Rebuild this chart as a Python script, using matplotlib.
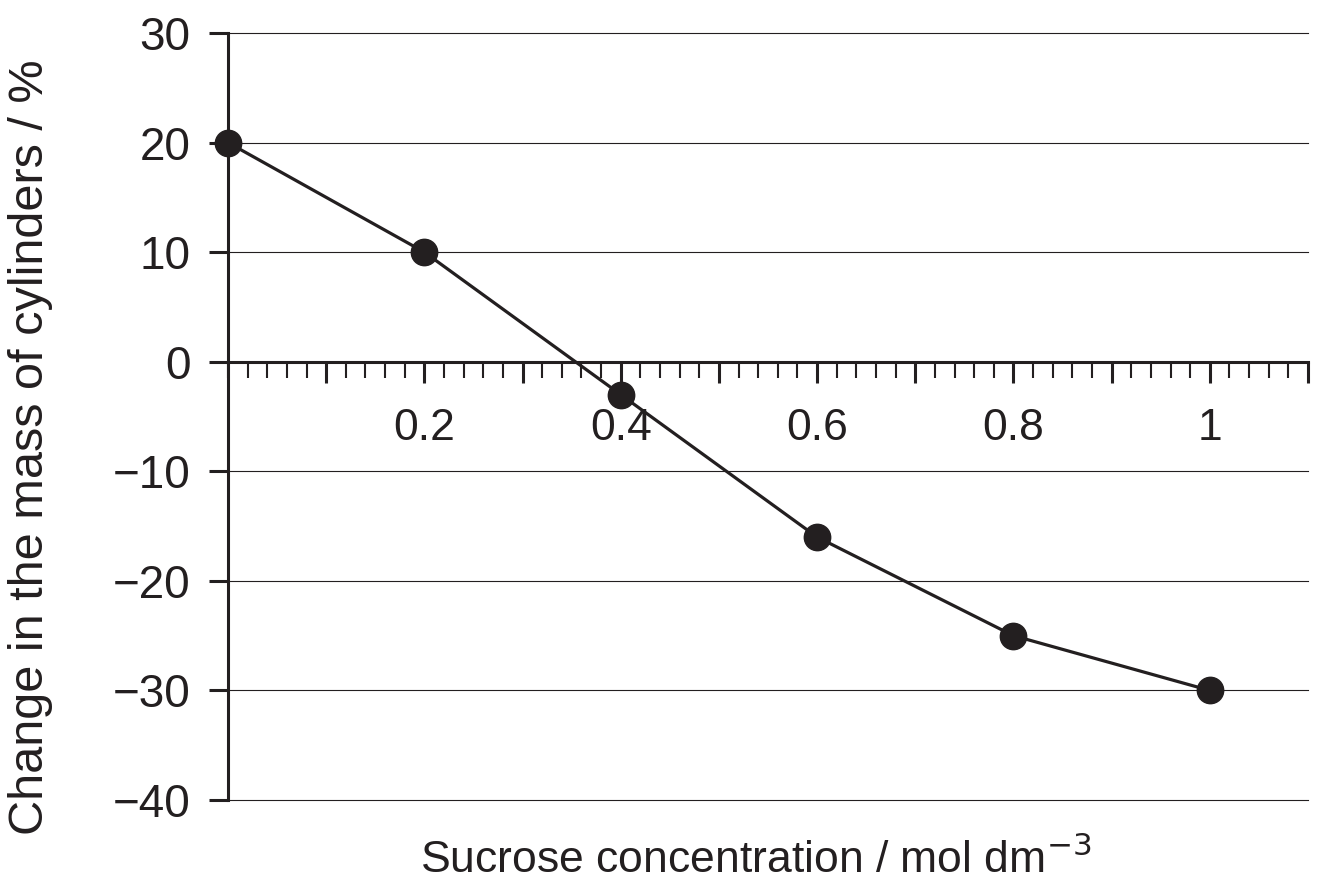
import matplotlib.pyplot as plt
from matplotlib.ticker import MultipleLocator, FixedLocator

plt.rcParams['font.family'] = ['Liberation Sans', 'DejaVu Sans']

concentration = [0, 0.2, 0.4, 0.6, 0.8, 1.0]
mass_change = [20, 10, -3, -16, -25, -30]
y_ticks = [30, 20, 10, 0, -10, -20, -30, -40]
x_label_ticks = [0.2, 0.4, 0.6, 0.8, 1.0]
x_labels = ["0.2", "0.4", "0.6", "0.8", "1"]

ink = "#231f20"

fig = plt.figure(figsize=(13.22, 8.93), dpi=100)
ax = fig.add_axes([0.1725, 0.1041, 0.8169, 0.8589])

ax.set_xlim(0, 1.1)
ax.set_ylim(-40, 30)

for y in y_ticks:
    if y != 0:
        ax.axhline(y, color=ink, lw=0.8, zorder=1, clip_on=False)

ax.plot(concentration, mass_change, color=ink, lw=2.3, marker="o",
        markersize=19, markerfacecolor=ink, markeredgecolor=ink, zorder=3,
        clip_on=False)

ax.spines['top'].set_visible(False)
ax.spines['right'].set_visible(False)
ax.spines['left'].set_linewidth(2.2)
ax.spines['left'].set_color(ink)
ax.spines['bottom'].set_position(('data', 0))
ax.spines['bottom'].set_linewidth(2.2)
ax.spines['bottom'].set_color(ink)

ax.set_yticks(y_ticks)
ax.set_yticklabels(["30", "20", "10", "0", "\u221210", "\u221220", "\u221230", "\u221240"])
ax.tick_params(axis='y', direction='out', length=14, width=2.2, color=ink,
               labelsize=33, pad=13, labelcolor=ink)

# x ticks hang below the zero line; labels only every 0.2
ax.xaxis.set_major_locator(FixedLocator([0.1 * i for i in range(1, 12)]))
labels = []
for i in range(1, 12):
    v = round(0.1 * i, 1)
    labels.append(x_labels[x_label_ticks.index(v)] if v in x_label_ticks else "")
ax.set_xticklabels(labels)
ax.xaxis.set_minor_locator(MultipleLocator(0.02))
ax.tick_params(axis='x', which='major', direction='out', length=15, width=2.2,
               color=ink, labelsize=32, pad=18, labelcolor=ink)
ax.tick_params(axis='x', which='minor', direction='out', length=11.5, width=1.5,
               color=ink)

fig.text(0.572, 0.037, "Sucrose concentration / mol dm$^{\u22123}$", ha='center',
         va='center', fontsize=32, color=ink)
fig.text(0.023, 0.4995, "Change in the mass of cylinders / %", rotation=90,
         ha='center', va='center', fontsize=35, color=ink)

fig.savefig("out.png", dpi=100)
